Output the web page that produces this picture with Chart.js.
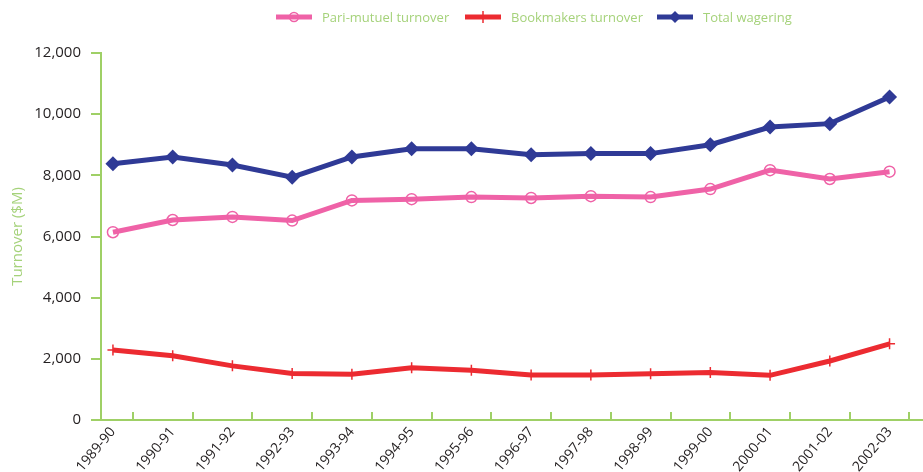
<!DOCTYPE html>
<html>
<head>
<meta charset="utf-8">
<script src="https://cdn.jsdelivr.net/npm/chart.js@4"></script>
<style>
  html, body { margin: 0; padding: 0; background: #fff; }
  #wrap { position: relative; width: 923px; height: 472px; }
  #legend { position: absolute; top: 0; left: 0; width: 923px; height: 32px; font-family: 'Open Sans', sans-serif; font-size: 13px; color: #a5d27a; }
  .item { position: absolute; top: 8px; display: flex; align-items: center; white-space: nowrap; }
  .item svg { margin-right: 10px; }
  canvas { position: absolute; top: 0; left: 0; }
</style>
</head>
<body>
<div id="wrap">
  <canvas id="c" width="923" height="472"></canvas>
  <div id="legend"></div>
</div>
<script>
// Racing turnover by year ($M)
const YEARS = ['1989-90', '1990-91', '1991-92', '1992-93', '1993-94', '1994-95', '1995-96',
  '1996-97', '1997-98', '1998-99', '1999-00', '2000-01', '2001-02', '2002-03'];
const PARI = [6140, 6540, 6640, 6520, 7180, 7220, 7290, 7260, 7320, 7290, 7550, 8170, 7880, 8120];
const BOOK = [2290, 2100, 1770, 1520, 1500, 1710, 1630, 1470, 1470, 1510, 1550, 1460, 1930, 2490];
const TOTAL = [8380, 8600, 8340, 7940, 8600, 8870, 8870, 8670, 8710, 8710, 9000, 9580, 9690, 10560];
const Y_TICKS = [0, 2000, 4000, 6000, 8000, 10000, 12000];

const COLORS = {
  pink: '#ef62a7',
  red: '#ec2b31',
  blue: '#2f3a96',
  green: '#9fd066',
  greenText: '#a5d27a',
  text: '#231f20',
};

const SERIES = [
  { label: 'Pari-mutuel turnover', data: PARI, color: COLORS.pink, style: 'circle' },
  { label: 'Bookmakers turnover', data: BOOK, color: COLORS.red, style: 'cross' },
  { label: 'Total wagering', data: TOTAL, color: COLORS.blue, style: 'rectRot' },
];

// legend: line + marker, like the original
const LEGEND_X = [276, 465, 657];
function legendIcon(s) {
  let mark = '';
  if (s.style === 'circle') mark = `<circle cx="18" cy="7" r="4.5" fill="none" stroke="${s.color}" stroke-width="1.5"/>`;
  if (s.style === 'cross') mark = `<line x1="18" y1="1" x2="18" y2="13" stroke="${s.color}" stroke-width="1.5"/>`;
  if (s.style === 'rectRot') mark = `<polygon points="18,1 24,7 18,13 12,7" fill="${s.color}"/>`;
  return `<svg width="36" height="14"><line x1="0" y1="7" x2="36" y2="7" stroke="${s.color}" stroke-width="5"/>${mark}</svg>`;
}
document.getElementById('legend').innerHTML = SERIES.map((s, i) =>
  `<div class="item" style="left:${LEGEND_X[i]}px">${legendIcon(s)}<span>${s.label}</span></div>`).join('');

// x ticks: labels on the points, tick marks a third of the way to the next point
const X_TICKS = [];
YEARS.forEach((_, i) => { X_TICKS.push(i); X_TICKS.push(i + 1 / 3); });

new Chart(document.getElementById('c').getContext('2d'), {
  type: 'line',
  data: {
    datasets: SERIES.map(s => ({
      label: s.label,
      data: s.data.map((v, i) => ({ x: i, y: v })),
      borderColor: s.color,
      backgroundColor: s.style === 'rectRot' ? s.color : 'rgba(255,255,255,0)',
      borderWidth: 5,
      tension: 0,
      clip: false,
      pointStyle: s.style,
      pointRadius: s.style === 'rectRot' ? 7.5 : 5.5,
      pointBorderWidth: s.style === 'rectRot' ? 0 : 1.5,
      pointBorderColor: s.color,
      pointBackgroundColor: s.style === 'rectRot' ? s.color : 'rgba(255,255,255,0)',
    })),
  },
  options: {
    responsive: false,
    animation: false,
    layout: { autoPadding: false, padding: { top: 53, right: 0, bottom: 0, left: 0 } },
    plugins: { legend: { display: false }, tooltip: { enabled: false } },
    scales: {
      x: {
        type: 'linear',
        min: -0.2,
        max: 13.56,
        afterBuildTicks: (scale) => { scale.ticks = X_TICKS.map(v => ({ value: v })); },
        afterFit: (scale) => { scale.height = 52; scale.paddingLeft = 0; scale.paddingRight = 0; },
        border: { color: COLORS.green, width: 2 },
        grid: {
          drawOnChartArea: false,
          tickLength: -8,
          lineWidth: 2,
          tickColor: (ctx) => (ctx.index % 2 ? COLORS.green : 'rgba(0,0,0,0)'),
        },
        ticks: {
          autoSkip: false,
          minRotation: 50,
          maxRotation: 50,
          padding: 12,
          color: COLORS.text,
          font: { family: "'Open Sans', sans-serif", size: 14 },
          callback: (v, i) => (i % 2 ? '' : YEARS[i / 2]),
        },
      },
      y: {
        min: 0,
        max: 12000,
        afterBuildTicks: (scale) => { scale.ticks = Y_TICKS.map(v => ({ value: v })); },
        afterFit: (scale) => { scale.width = 101; scale.paddingTop = 0; scale.paddingBottom = 0; },
        border: { color: COLORS.green, width: 2 },
        grid: { drawOnChartArea: false, tickLength: 10, lineWidth: 2, color: COLORS.green },
        ticks: {
          padding: 10,
          color: COLORS.text,
          font: { family: "'Open Sans', sans-serif", size: 15 },
          callback: (v) => v.toLocaleString('en-US'),
        },
        title: {
          display: true,
          text: 'Turnover ($M)',
          color: COLORS.greenText,
          font: { family: "'Open Sans', sans-serif", size: 15 },
          padding: { top: 9, bottom: 0 },
        },
      },
    },
  },
});
</script>
</body>
</html>
